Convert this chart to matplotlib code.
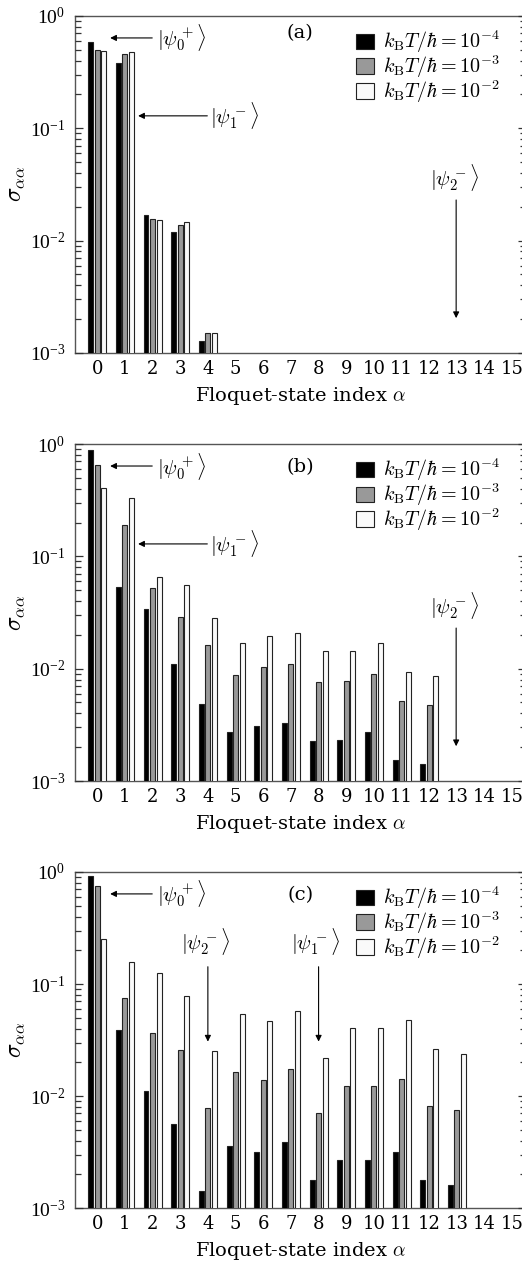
import numpy as np
import matplotlib
matplotlib.use("Agg")
import matplotlib.pyplot as plt
from matplotlib.ticker import NullFormatter, FixedLocator, FixedFormatter

plt.rcParams['font.family'] = ['Liberation Serif', 'DejaVu Serif']
plt.rcParams['mathtext.fontset'] = 'cm'

# Floquet-state index
idx = np.arange(16)
temps = [r'$k_{\rm B}T/\hbar = 10^{-4}$', r'$k_{\rm B}T/\hbar = 10^{-3}$', r'$k_{\rm B}T/\hbar = 10^{-2}$']
ytick_vals = [1e-3, 1e-2, 1e-1, 1e0]
ytick_text = [r'$\mathregular{10^{-3}}$', r'$\mathregular{10^{-2}}$',
              r'$\mathregular{10^{-1}}$', r'$\mathregular{10^{0}}$']
ytick_minor = [m * 10.0 ** e for e in (-3, -2, -1) for m in range(2, 10)]

# panel (a): sigma_aa for kT = 1e-4, 1e-3, 1e-2 (nan = below axis)
nan = np.nan
a_t4 = [0.587, 0.382, 0.0167, 0.0118, 0.00117] + [nan] * 11
a_t3 = [0.50, 0.462, 0.0155, 0.0136, 0.00139] + [nan] * 11
a_t2 = [0.484, 0.478, 0.0151, 0.0144, 0.00142] + [nan] * 11

# panel (b)
b_t4 = [0.885, 0.0534, 0.0342, 0.0110, 0.00476, 0.00263, 0.00297, 0.00321, 0.00219,
        0.00223, 0.00261, 0.00144, 0.00131, nan, nan, nan]
b_t3 = [0.652, 0.189, 0.0518, 0.0287, 0.0161, 0.00870, 0.0102, 0.0109, 0.00757,
        0.00773, 0.00885, 0.00504, 0.00464, nan, nan, nan]
b_t2 = [0.404, 0.329, 0.0660, 0.0551, 0.0283, 0.0170, 0.0193, 0.0206, 0.0143,
        0.0143, 0.0169, 0.00929, 0.00844, nan, nan, nan]

# panel (c)
c_t4 = [0.924, 0.0384, 0.0111, 0.00557, 0.00131, 0.00350, 0.00309, 0.00375, 0.00169,
        0.00257, 0.00257, 0.00307, 0.00169, 0.00152, nan, nan]
c_t3 = [0.753, 0.0745, 0.0363, 0.0256, 0.00769, 0.0163, 0.0139, 0.0173, 0.00689,
        0.0121, 0.0122, 0.0141, 0.0080, 0.00733, nan, nan]
c_t2 = [0.252, 0.156, 0.1245, 0.0787, 0.0253, 0.054, 0.0471, 0.0578, 0.0217,
        0.0406, 0.0400, 0.0474, 0.0262, 0.0236, nan, nan]

panels = [
    ('(a)', [a_t4, a_t3, a_t2], 0.9874, 0.721, 0.706),
    ('(b)', [b_t4, b_t3, b_t2], 0.649, 0.3826, 0.624),
    ('(c)', [c_t4, c_t3, c_t2], 0.3107, 0.045, 0.624),
]

fills = ['black', '#999999', '#fafafa']
offsets = [-0.235, 0.0, 0.235]
width = 0.18
wide = ['DejaVu Serif']

fig = plt.figure(figsize=(5.22, 12.65), dpi=100)

for tag, series, top, bottom, tag_y in panels:
    ax = fig.add_axes([0.1437, bottom, 0.8643, top - bottom])
    for s, col, off, lab in zip(series, fills, offsets, temps):
        s = np.array(s, dtype=float)
        ok = ~np.isnan(s)
        ax.bar(idx[ok] + off, s[ok], width=width, bottom=1e-4, color=col,
               edgecolor='#222222', linewidth=0.8, label=lab)
    ax.set_yscale('log')
    ax.set_ylim(1e-3, 1e0)
    ax.set_xlim(-0.8, 15.5)
    ax.set_xticks(idx)
    ax.set_xticklabels([str(i) for i in idx], fontsize=13, family=wide)
    ax.tick_params(axis='x', length=0, pad=5)
    ax.yaxis.set_major_locator(FixedLocator(ytick_vals))
    ax.yaxis.set_major_formatter(FixedFormatter(ytick_text))
    ax.yaxis.set_minor_locator(FixedLocator(ytick_minor))
    ax.yaxis.set_minor_formatter(NullFormatter())
    ax.tick_params(axis='y', which='major', direction='in', length=5.5, width=0.9,
                   left=True, right=True, color='#333333', pad=7, labelsize=14)
    ax.tick_params(axis='y', which='minor', direction='in', length=4, width=0.9,
                   right=True, left=True, color='#333333')
    for sp in ax.spines.values():
        sp.set_color('#555555')
        sp.set_linewidth(1.0)
        sp.set_zorder(0.5)
    ax.set_xlabel(r'Floquet-state index $\alpha$', fontsize=14, family=wide, labelpad=5)
    ax.set_ylabel(r'$\sigma_{\alpha\alpha}$', fontsize=17, labelpad=2)

    ax.text(7.34, tag_y, tag, fontsize=14, family=wide, ha='center', va='center')

    ax.legend(loc='upper left', bbox_to_anchor=(0.622, 0.962), frameon=False,
              fontsize=14.5, handlelength=0.9, handleheight=0.8, handletextpad=0.45,
              labelspacing=-0.08, borderpad=0, borderaxespad=0)

    arrow = dict(arrowstyle='-|>', lw=0.8, color='black', mutation_scale=9, shrinkA=0, shrinkB=0)
    # |psi_0^+> pointer
    ax.annotate('', xy=(0.47, 0.637), xytext=(1.99, 0.637), arrowprops=arrow)
    ax.text(2.15, 0.637, r'$|\psi_0^+\rangle$', fontsize=15, ha='left', va='center')
    if tag in ('(a)', '(b)'):
        ax.annotate('', xy=(1.48, 0.129), xytext=(3.98, 0.129), arrowprops=arrow)
        ax.text(4.06, 0.129, r'$|\psi_1^-\rangle$', fontsize=15, ha='left', va='center')
        ax.text(12.9, 0.0368, r'$|\psi_2^-\rangle$', fontsize=15, ha='center', va='center')
        ax.annotate('', xy=(12.97, 0.00204), xytext=(12.97, 0.023), arrowprops=arrow)
    else:
        ax.text(3.9, 0.238, r'$|\psi_2^-\rangle$', fontsize=15, ha='center', va='center')
        ax.annotate('', xy=(4.0, 0.0306), xytext=(4.0, 0.1426), arrowprops=arrow)
        ax.text(7.9, 0.238, r'$|\psi_1^-\rangle$', fontsize=15, ha='center', va='center')
        ax.annotate('', xy=(8.0, 0.0306), xytext=(8.0, 0.1426), arrowprops=arrow)

fig.savefig('out.png', dpi=100)
